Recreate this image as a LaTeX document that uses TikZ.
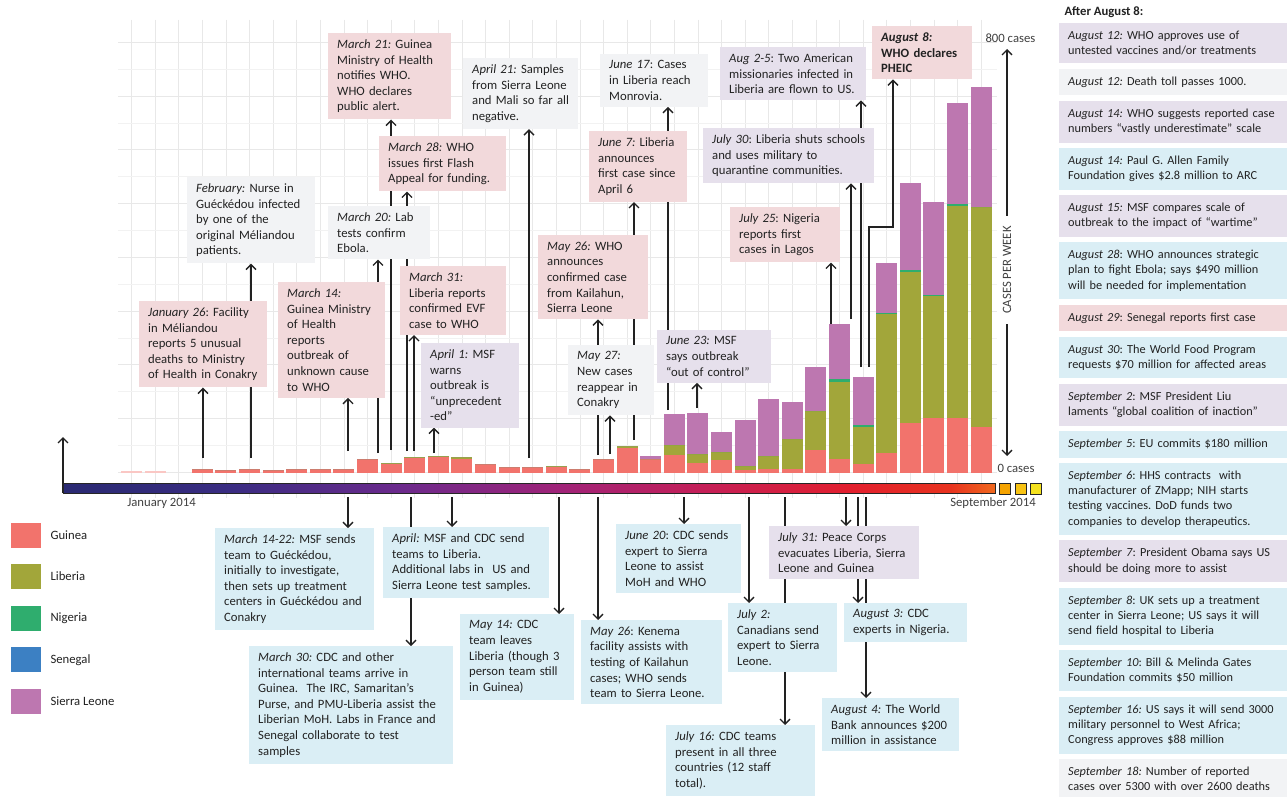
\documentclass[tikz,border=0pt]{standalone}
\usepackage{fontspec}
\setmainfont{Carlito}
\usetikzlibrary{arrows.meta,positioning,backgrounds}

\definecolor{ink}{HTML}{222222}
\definecolor{guinea}{HTML}{F2736C}
\definecolor{liberia}{HTML}{A2A63A}
\definecolor{nigeria}{HTML}{2FAD6E}
\definecolor{senegal}{HTML}{3C80C3}
\definecolor{sleone}{HTML}{BD77B0}
\definecolor{boxpink}{HTML}{F2D9DB}
\definecolor{boxgrey}{HTML}{F2F3F5}
\definecolor{boxlav}{HTML}{E6E0EC}
\definecolor{boxblue}{HTML}{DAEEF5}
\definecolor{tlA}{HTML}{2A2A72}
\definecolor{tlB}{HTML}{3A2C82}
\definecolor{tlC}{HTML}{6B2A8C}
\definecolor{tlD}{HTML}{A02378}
\definecolor{tlE}{HTML}{C41F58}
\definecolor{tlF}{HTML}{E21F2E}
\definecolor{tlG}{HTML}{E8331F}
\definecolor{tlH}{HTML}{F0691E}
\definecolor{tlsqA}{HTML}{F5A300}
\definecolor{tlsqB}{HTML}{F8C313}
\definecolor{tlsqC}{HTML}{F4E11E}

\pgfdeclarehorizontalshading{ebolaramp}{100bp}{color(0bp)=(tlA); color(25bp)=(tlA);
  color(34bp)=(tlB); color(43bp)=(tlC); color(51.7bp)=(tlD); color(59.2bp)=(tlE);
  color(67.2bp)=(tlF); color(72.6bp)=(tlG); color(75bp)=(tlH); color(100bp)=(tlH)}

\newcommand\evfont{\fontsize{12.7}{15.6}\selectfont}
\newcommand\rfont{\fontsize{12.3}{15.2}\selectfont}
\newcommand\evdate[1]{\textit{#1}}
\newcommand\casept{0.5375}
\frenchspacing

\begin{document}
\begin{tikzpicture}[x=1pt,y=-1pt,>={Straight Barb[length=5pt,width=10pt]},
  evt/.style={anchor=north west,inner xsep=9pt,inner ysep=6.5pt,align=left,font=\evfont,text=ink},
  pinkbox/.style={evt,fill=boxpink},
  greybox/.style={evt,fill=boxgrey},
  lavbox/.style={evt,fill=boxlav},
  bluebox/.style={evt,fill=boxblue},
  rbox/.style={evt,font=\rfont,inner xsep=9pt,inner ysep=8pt,text width=210pt},
  conn/.style={->,line width=1.3pt,ink},
  gridmaj/.style={black!9,line width=0.8pt},
  gridmin/.style={black!5,line width=0.8pt},
  legsq/.style={minimum width=30pt,minimum height=25pt,inner sep=0pt},
  axlabel/.style={font=\evfont,text=black!75}]
\useasboundingbox (0,0) rectangle (1287,797);

% events above the curve
\node[pinkbox,text width=110pt] (jan26) at (139,301) {\evdate{January 26}: Facility\\in Méliandou\\reports 5 unusual\\deaths to Ministry\\of Health in Conakry};
\node[greybox,text width=110pt] (feb) at (187,177) {\evdate{February:} Nurse in\\Guéckédou infected\\by one of the\\original Méliandou\\patients.};
\node[pinkbox,text width=89pt] (mar14) at (278,282) {\evdate{March 14:}\\Guinea Ministry\\of Health\\reports\\outbreak of\\unknown cause\\to WHO};
\node[greybox,text width=84pt] (mar20) at (328,206) {\evdate{March 20:} Lab\\tests confirm\\Ebola.};
\node[pinkbox,text width=105pt] (mar21) at (328,33) {\evdate{March 21:} Guinea\\Ministry of Health\\notifies WHO.\\WHO declares\\public alert.};
\node[pinkbox,text width=109pt] (mar28) at (379,136) {\evdate{March 28:} WHO\\issues first Flash\\Appeal for funding.};
\node[pinkbox,text width=88pt] (mar31) at (400,266) {\evdate{March 31:}\\Liberia reports\\confirmed EVF\\case to WHO};
\node[lavbox,text width=80pt] (apr01) at (421,343) {\evdate{April 1:} MSF\\warns\\outbreak is\\“unprecedent\\-ed”};
\node[greybox,text width=97pt] (apr21) at (463,58) {\evdate{April 21:} Samples\\from Sierra Leone\\and Mali so far all\\negative.};
\node[pinkbox,text width=92pt] (may26) at (538,235) {\evdate{May 26:} WHO\\announces\\confirmed case\\from Kailahun,\\Sierra Leone};
\node[greybox,text width=68pt] (may27) at (568,345) {\evdate{May 27:}\\New cases\\reappear in\\Conakry};
\node[pinkbox,text width=80pt] (jun07) at (589,131) {\evdate{June 7:} Liberia\\announces\\first case since\\April 6};
\node[greybox,text width=90pt] (jun17) at (600,54) {\evdate{June 17}: Cases\\in Liberia reach\\Monrovia.};
\node[lavbox,text width=96pt] (jun23) at (657,330) {\evdate{June 23:} MSF\\says outbreak\\“out of control”};
\node[lavbox,text width=128pt] (aug25) at (720,47) {\evdate{Aug 2-5}: Two American\\missionaries infected in\\Liberia are flown to US.};
\node[lavbox,text width=153pt] (jul30) at (703,128) {\evdate{July 30}: Liberia shuts schools\\and uses military to\\quarantine communities.};
\node[pinkbox,text width=92pt] (jul25) at (730,207) {\evdate{July 25}: Nigeria\\reports first\\cases in Lagos};
\node[pinkbox,text width=82pt] (aug08) at (872,26) {\textbf{\textit{August 8:}}\\\textbf{WHO declares}\\\textbf{PHEIC}};

% events below the time line
\node[bluebox,text width=141pt] (m1422) at (215,528) {\evdate{March 14-22:} MSF sends\\team to Guéckédou,\\initially to investigate,\\then sets up treatment\\centers in Guéckédou and\\Conakry};
\node[bluebox,text width=148pt] (april) at (383,527) {\evdate{April:} MSF and CDC send\\teams to Liberia.\\Additional labs in \ US and\\Sierra Leone test samples.};
\node[bluebox,text width=186pt] (mar30) at (249,646) {\evdate{March 30:} CDC and other\\international teams arrive in\\Guinea. \ The IRC, Samaritan’s\\Purse, and PMU-Liberia assist the\\Liberian MoH. Labs in France and\\Senegal collaborate to test\\samples};
\node[bluebox,text width=96pt] (may14) at (460,614) {\evdate{May 14:} CDC\\team leaves\\Liberia (though 3\\person team still\\in Guinea)};
\node[bluebox,text width=123pt] (may26b) at (581,620) {\evdate{May 26}: Kenema\\facility assists with\\testing of Kailahun\\cases; WHO sends\\team to Sierra Leone.};
\node[bluebox,text width=107pt] (jun20) at (616,524) {\evdate{June 20}: CDC sends\\expert to Sierra\\Leone to assist\\MoH and WHO};
\node[bluebox,text width=91pt] (jul02) at (728,603) {\evdate{July 2:}\\Canadians send\\expert to Sierra\\Leone.};
\node[bluebox,text width=131pt] (jul16) at (666,725) {\evdate{July 16:} CDC teams\\present in all three\\countries (12 staff\\total).};
\node[lavbox,text width=132pt] (jul31) at (769,526) {\evdate{July 31:} Peace Corps\\evacuates Liberia, Sierra\\Leone and Guinea};
\node[bluebox,text width=105pt] (aug03) at (844,603) {\evdate{August 3:} CDC\\experts in Nigeria.};
\node[bluebox,text width=119pt] (aug04) at (822,698) {\evdate{August 4:} The World\\Bank announces \$200\\million in assistance};

% after August 8
\node[font=\evfont\bfseries,text=ink,anchor=west] (after) at (1061,12) {After August 8:};
\node[rbox,fill=boxlav] (r1) at (1059,23) {\evdate{August 12:} WHO approves use of\\untested vaccines and/or treatments};
\node[rbox,fill=boxgrey,below=5pt of r1] (r2) {\evdate{August 12:} Death toll passes 1000.};
\node[rbox,fill=boxlav,below=5pt of r2] (r3) {\evdate{August 14:} WHO suggests reported case\\numbers “vastly underestimate” scale};
\node[rbox,fill=boxblue,below=5pt of r3] (r4) {\evdate{August 14:} Paul G. Allen Family\\Foundation gives \$2.8 million to ARC};
\node[rbox,fill=boxlav,below=5pt of r4] (r5) {\evdate{August 15:} MSF compares scale of\\outbreak to the impact of “wartime”};
\node[rbox,fill=boxblue,below=5pt of r5] (r6) {\evdate{August 28}: WHO announces strategic\\plan to fight Ebola; says \$490 million\\will be needed for implementation};
\node[rbox,fill=boxpink,below=5pt of r6] (r7) {\evdate{August 29}: Senegal reports first case};
\node[rbox,fill=boxblue,below=5pt of r7] (r8) {\evdate{August 30}: The World Food Program\\requests \$70 million for affected areas};
\node[rbox,fill=boxlav,below=5pt of r8] (r9) {\evdate{September 2}: MSF President Liu\\laments “global coalition of inaction”};
\node[rbox,fill=boxblue,below=5pt of r9] (r10) {\evdate{September 5}: EU commits \$180 million};
\node[rbox,fill=boxblue,below=5pt of r10] (r11) {\evdate{September 6}: HHS contracts \ with\\manufacturer of ZMapp; NIH starts\\testing vaccines. DoD funds two\\companies to develop therapeutics.};
\node[rbox,fill=boxlav,below=5pt of r11] (r12) {\evdate{September 7}: President Obama says US\\should be doing more to assist};
\node[rbox,fill=boxblue,below=5pt of r12] (r13) {\evdate{September 8}: UK sets up a treatment\\center in Sierra Leone; US says it will\\send field hospital to Liberia};
\node[rbox,fill=boxblue,below=5pt of r13] (r14) {\evdate{September 10}: Bill \& Melinda Gates\\Foundation commits \$50 million};
\node[rbox,fill=boxblue,below=5pt of r14] (r15) {\evdate{September 16:} US says it will send 3000\\military personnel to West Africa;\\Congress approves \$88 million};
\node[rbox,fill=boxgrey,below=5pt of r15] (r16) {\evdate{September 18:} Number of reported\\cases over 5300 with over 2600 deaths};

% legend
\foreach \c/\t [count=\j] in {guinea/Guinea,liberia/Liberia,nigeria/Nigeria,senegal/Senegal,sleone/Sierra Leone}{
  \pgfmathsetmacro\ly{535+41.6*(\j-1)}
  \node[legsq,fill=\c] (lg\j) at (25.5,\ly) {};
  \node[font=\evfont,text=ink,anchor=west] (lt\j) at (47,\ly) {\t};
}

% time line and axes
\node[shade,shading=ebolaramp,draw=black!85,line width=0.8pt,minimum width=932pt,minimum height=10pt,inner sep=0pt,anchor=north west] (strip) at (63,483) {};
\foreach \c [count=\j] in {tlsqA,tlsqB,tlsqC}
  \node[draw=black!85,line width=0.8pt,fill=\c,minimum size=11pt,inner sep=0pt,anchor=north west] (sq\j) at ({999+15.5*(\j-1)},483) {};
\node[axlabel] (jan14) at (161.5,503) {January 2014};
\node[axlabel] (sep14) at (993,503) {September 2014};
\node[axlabel,anchor=west] (c800) at (982,38) {800 cases};
\node[axlabel,anchor=west] (c0) at (994,468) {0 cases};
\node[axlabel,fill=white,rotate=90,inner xsep=10pt] (cpw) at (1007,270) {CASES PER WEEK};

% arrow origins
\coordinate (jan26-o) at (203,458);
\coordinate (feb-o) at (251,458);
\coordinate (mar14-o) at (348,451);
\coordinate (mar20-o) at (378,453);
\coordinate (mar21-o) at (391,450);
\coordinate (mar28-o) at (407,451);
\coordinate (mar31-o) at (414,451);
\coordinate (apr01-o) at (434,453);
\coordinate (apr21-o) at (529,458);
\coordinate (may26-o) at (598,455);
\coordinate (may27-o) at (610,454);
\coordinate (jun07-o) at (634,440);
\coordinate (jun17-o) at (668,410);
\coordinate (jun23-o) at (697,408);
\coordinate (aug25-o) at (861,367);
\coordinate (jul30-o) at (851,319);
\coordinate (jul25-o) at (831,324);
\coordinate (aug08-o) at (869,367);
\coordinate (aug08-k) at (893,227);
\coordinate (m1422-o) at (348,497);
\coordinate (april-o) at (452,497);
\coordinate (mar30-o) at (411,497);
\coordinate (may14-o) at (559,497);
\coordinate (may26b-o) at (598,497);
\coordinate (jun20-o) at (684,497);
\coordinate (jul02-o) at (749,497);
\coordinate (jul16-o) at (785,497);
\coordinate (jul31-o) at (846,497);
\coordinate (aug03-o) at (858,497);
\coordinate (aug04-o) at (866,497);
\coordinate (ybase) at (63,493);
\coordinate (ytip) at (63,437);
\coordinate (cpw-t) at (1007,49);
\coordinate (cpw-b) at (1007,456);

\begin{scope}[on background layer]
  \fill[white] (0,0) rectangle (1287,797);
  % grid
  \foreach \k in {0,...,36}
    \draw[gridmaj] ({131.5+23.6*\k},20) -- ({131.5+23.6*\k},498);
  \foreach \k in {0,2,...,16}
    \draw[gridmaj] (118,{472.3-26.875*\k}) -- (997,{472.3-26.875*\k});
  \foreach \k in {1,3,...,15}
    \draw[gridmin] (118,{472.3-26.875*\k}) -- (997,{472.3-26.875*\k});

  % weekly cases: week/Guinea/Liberia/Nigeria/Sierra Leone
  \fill[guinea!40] (121,472.5) rectangle ++(21,-1.2);
  \fill[guinea!40] (144.6,472.5) rectangle ++(21,-1.2);
  \foreach \i/\g/\l/\n/\s in {3/6/0/0/0,4/4/0/0/0,5/6/0/0/0,6/4/0/0/0,7/6/0/0/0,8/7/0/0/0,
      9/7/0/0/0,10/26/0/0/0,11/15/2/0/0,12/27/1/0/0,13/28/2/0/0,14/25/3/0/0,15/15/0/0/0,
      16/10/0/0/0,17/11/0/0/0,18/11/2/0/0,19/6/0/0/0,20/25/0/0/0,21/45/4/0/0,22/25/0/0/6,
      23/32/19/0/58,24/17/18/0/76,25/23/15/0/37,26/4/9/0/84,27/6/25/0/105,28/7/55/0/70,
      29/42/73/0/82,30/25/144/5/102,31/16/69/4/89,32/36/259/2/93,33/92/281/4/162,
      34/102/226/3/172,35/102/394/3/188,36/84/410/0/224}{
    \pgfmathsetmacro\bx{121+23.6*\i}
    \pgfmathsetmacro\ya{472.5-\g*\casept}
    \pgfmathsetmacro\yb{\ya-\l*\casept}
    \pgfmathsetmacro\yc{\yb-\n*\casept}
    \pgfmathsetmacro\yd{\yc-\s*\casept}
    \fill[guinea] (\bx,472.5) rectangle (\bx+21,\ya);
    \fill[liberia] (\bx,\ya) rectangle (\bx+21,\yb);
    \fill[nigeria] (\bx,\yb) rectangle (\bx+21,\yc);
    \fill[sleone] (\bx,\yc) rectangle (\bx+21,\yd);
  }

  % connectors
  \foreach \e in {jan26,feb,mar14,mar20,mar21,mar28,mar31,apr01,apr21,may26,may27,jun07,jun17,jun23,aug25,jul30,jul25}
    \draw[conn] (\e-o) -- (\e-o |- \e.south);
  \draw[conn] (aug08-o) |- (aug08-k) -- (aug08-k |- aug08.south);
  \foreach \e in {m1422,april,mar30,may14,may26b,jun20,jul02,jul16,jul31,aug03,aug04}
    \draw[conn] (\e-o) -- (\e-o |- \e.north);
  \draw[conn] (ybase) -- (ytip);
  \draw[conn,<->] (cpw-t) -- (cpw-b);
\end{scope}
\end{tikzpicture}
\end{document}
